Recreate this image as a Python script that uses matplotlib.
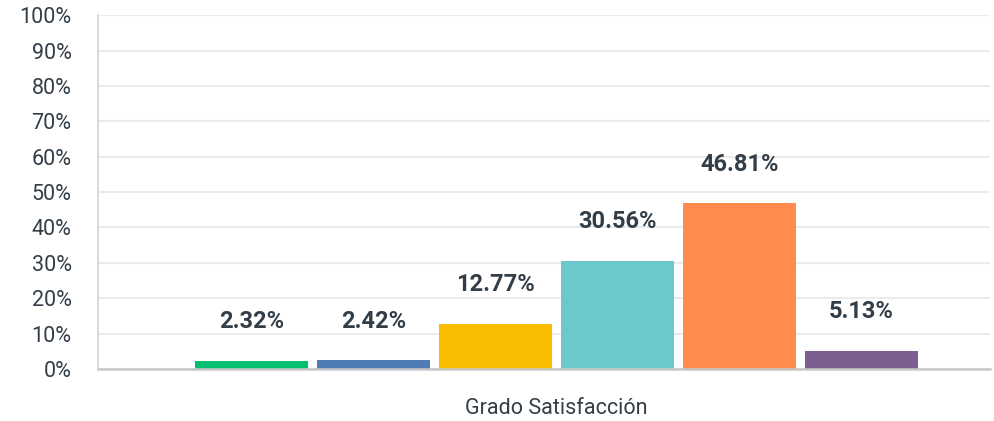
import numpy as np
import matplotlib
matplotlib.use("Agg")
import matplotlib.pyplot as plt

plt.rcParams['font.family'] = ['Roboto', 'DejaVu Sans']

# data
category = "Grado Satisfacción"
values = [2.32, 2.42, 12.77, 30.56, 46.81, 5.13]
colors = ["#00BF6F", "#507CB6", "#F9BE00", "#6BC8CD", "#FF8B4F", "#7D5E90"]
yticks = np.arange(0, 101, 10)

fig = plt.figure(figsize=(9.94, 4.21), dpi=100)
ax = fig.add_axes([0.0986, 0.1235, 0.8974, 0.8405])

x = np.arange(len(values))
bars = ax.bar(x, values, width=0.93, color=colors, zorder=3)

for b, v in zip(bars, values):
    ax.annotate(f"{v:.2f}%", (b.get_x() + b.get_width() / 2, v),
                xytext=(0, 28), textcoords="offset points",
                ha="center", va="center", fontsize=17, fontweight="semibold",
                color="#333e48")

ax.set_xlim(-1.258, 6.053)
ax.set_ylim(0, 100)
ax.set_yticks(yticks)
ax.set_yticklabels([f"{t}%" for t in yticks])
ax.set_xticks([x.mean()])
ax.set_xticklabels([category])

ax.grid(axis="y", color="#ebebeb", linewidth=1.5, zorder=0)
ax.tick_params(axis="y", length=0, pad=19, labelsize=15.5, labelcolor="#333e48")
ax.tick_params(axis="x", length=0, pad=21, labelsize=15.5, labelcolor="#333e48")

for s in ["top", "right"]:
    ax.spines[s].set_visible(False)
ax.spines["left"].set_color("#d6d6d6")
ax.spines["left"].set_linewidth(1.2)
ax.spines["bottom"].set_color("#c8c8c8")
ax.spines["bottom"].set_linewidth(1.8)
ax.spines["bottom"].set_zorder(4)

fig.savefig("out.png", dpi=100)
